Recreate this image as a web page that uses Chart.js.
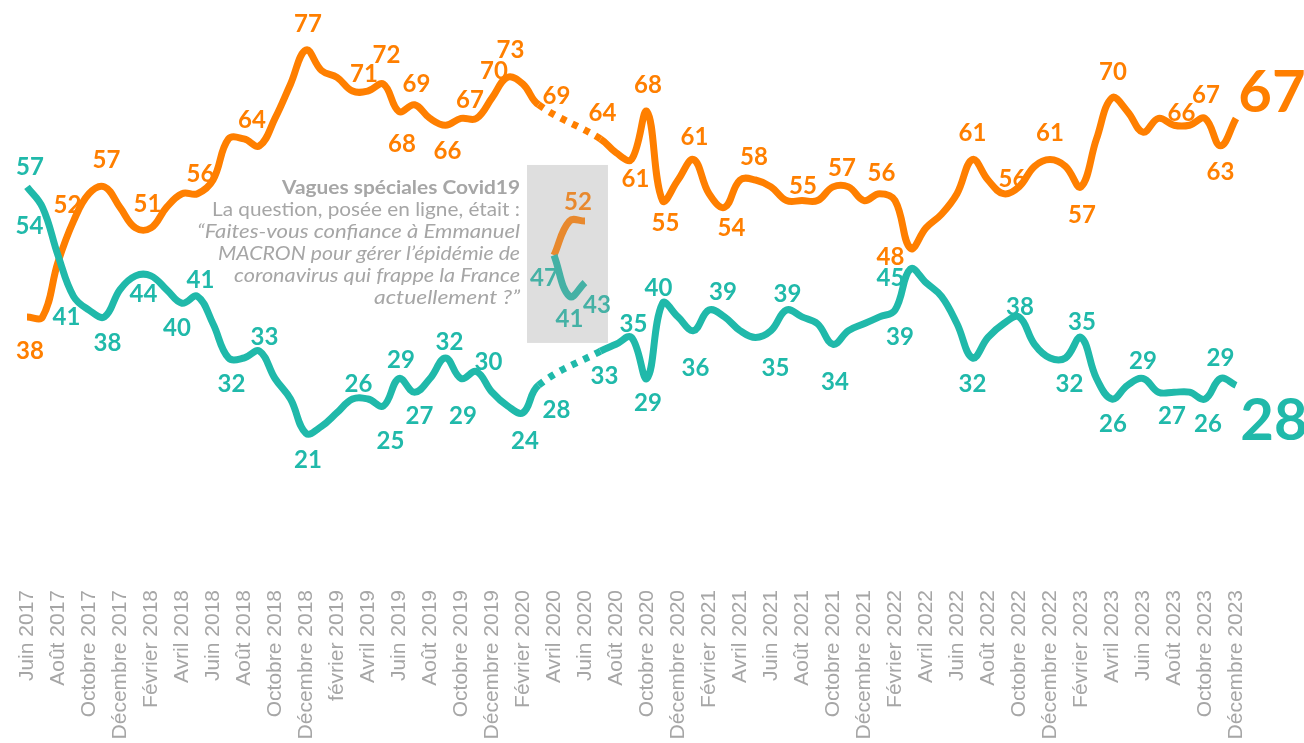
<!DOCTYPE html>
<html><head><meta charset="utf-8">
<script src="https://cdn.jsdelivr.net/npm/chart.js@4"></script>
<style>html,body{margin:0;padding:0;background:#fff;}#wrap{width:1304px;height:743px;position:relative;}</style>
</head><body><div id="wrap"><canvas id="c"></canvas></div>
<script>
const months = ["Juin 2017","Juillet 2017","Août 2017","Septembre 2017","Octobre 2017","Novembre 2017","Décembre 2017",
"Janvier 2018","Février 2018","Mars 2018","Avril 2018","Mai 2018","Juin 2018","Juillet 2018","Août 2018","Septembre 2018","Octobre 2018","Novembre 2018","Décembre 2018",
"Janvier 2019","février 2019","Mars 2019","Avril 2019","Mai 2019","Juin 2019","Juillet 2019","Août 2019","Septembre 2019","Octobre 2019","Novembre 2019","Décembre 2019",
"Janvier 2020","Février 2020","Mars 2020","Avril 2020","Mai 2020","Juin 2020","Juillet 2020","Août 2020","Septembre 2020","Octobre 2020","Novembre 2020","Décembre 2020",
"Janvier 2021","Février 2021","Mars 2021","Avril 2021","Mai 2021","Juin 2021","Juillet 2021","Août 2021","Septembre 2021","Octobre 2021","Novembre 2021","Décembre 2021",
"Janvier 2022","Février 2022","Mars 2022","Avril 2022","Mai 2022","Juin 2022","Juillet 2022","Août 2022","Septembre 2022","Octobre 2022","Novembre 2022","Décembre 2022",
"Janvier 2023","Février 2023","Mars 2023","Avril 2023","Mai 2023","Juin 2023","Juillet 2023","Août 2023","Septembre 2023","Octobre 2023","Novembre 2023","Décembre 2023"];

// "Pas confiance" (orange)
const pasConfiance = [38,38,46,52,56,57,54,
51,51,54,56,56,58,64,64,63,67,72,77,
74,73,71,71,72,68,69,67,66,67,67,70,
73,72,69,null,null,null,64,62,61,68,55,58,
61,56,54,58,58,57,55,55,55,57,57,55,
56,55,48,51,53,56,61,58,56,57,60,61,
60,57,64,70,68,65,67,66,66,67,63,67];

// "Confiance" (teal)
const confiance = [57,54,47,41,39,38,42,
44,44,42,40,41,37,32,32,33,29,26,21,
22,24,26,26,25,29,27,29,32,29,30,27,
25,24,28,null,null,null,33,34,35,29,40,38,
36,39,38,36,35,36,39,38,37,34,36,37,
38,39,45,43,41,37,32,35,37,38,34,32,
32,35,29,26,28,29,27,27,27,26,29,28];

// Vagues spéciales Covid19
const covidMonths = ["Avril 2020","Mai 2020","Juin 2020"];
const covidPasConfiance = [47,52,52];
const covidConfiance = [47,41,43];

const ORANGE = '#FF7F00', TEAL = '#20B9AA', COV_OR = '#E8892E', COV_TE = '#45B1A5', GREY = '#A6A6A6';

// label placement: [pointIndex, dx, dy, big]
const tealLabelPos = [[0,3,-20],[1,-13,19],[3,-7,21],[5,3,26],[7,8,18],[10,-5,25],[11,3,-16],[13,3,26],[15,5,-14],[18,2,27],
[21,6,-15],[23,7,35],[24,2,-18],[25,5,24],[27,4,-16],[28,2,38],[29,12,-9],[32,2,29],[33,18,25],[37,4,25],[39,2,-13],[40,1,25],
[41,-4,-15],[43,2,38],[44,14,-18],[47,20,31],[49,1,-16],[52,2,38],[57,-20,9],[56,5,27],[61,0,26],[64,1,-10],[68,1,-15],[67,4,26],
[70,1,25],[72,0,-17],[74,-2,24],[76,3,25],[77,0,-20],[78,38,36,1]];
const orangeLabelPos = [[0,3,34],[3,-6,-16],[5,2,-27],[7,12,-24],[11,3,-19],[14,8,-19],[18,2,-26],[22,-4,-17],[23,3,-29],[25,2,-20],
[24,3,33],[27,2,26],[28,9,-18],[30,2,-27],[31,3,-27],[33,18,-8],[37,2,-26],[39,4,20],[40,1,-26],[41,3,23],[43,1,-22],[45,7,21],
[46,14,-23],[50,1,-14],[52,9,-19],[55,2,-20],[57,-20,9],[61,0,-26],[63,9,-14],[66,0,-26],[68,1,28],[70,1,-26],[75,-8,-12],
[76,1,-23],[77,0,26],[78,36,-25,1]];
const covTealLabelPos = [[0,-10,23],[1,0,23],[2,12,23]];
const covOrangeLabelPos = [[2,-7,-19]];
const covidBox = {x0:32.26, x1:37.48, yTop:60.2, yBottom:34.2};
const noteLines = [
  ['bold 19px Lato','Vagues spéciales Covid19', 238],
  ['19px Lato','La question, posée en ligne, était :', 308],
  ['italic 19px Lato','“Faites-vous confiance à Emmanuel', 323],
  ['italic 19px Lato','MACRON pour gérer l’épidémie de', 302],
  ['italic 19px Lato','coronavirus qui frappe la France', 286],
  ['italic 19px Lato','actuellement ?”', 146]
];

const gapDash = ctx => (ctx.p0.skip || ctx.p1.skip) ? [6,7] : undefined;

const plugin = {
  id: 'decor',
  beforeDatasetsDraw(chart) {
    const c = chart.ctx, xs = chart.scales.x, ys = chart.scales.y;
    const bx0 = xs.getPixelForValue(covidBox.x0), bx1 = xs.getPixelForValue(covidBox.x1);
    const by0 = ys.getPixelForValue(covidBox.yTop), by1 = ys.getPixelForValue(covidBox.yBottom);
    c.save();
    c.fillStyle = '#DEDEDE';
    c.fillRect(bx0, by0, bx1 - bx0, by1 - by0);
    c.fillStyle = GREY; c.textAlign = 'right'; c.textBaseline = 'middle';
    noteLines.forEach((l, i) => {
      c.font = l[0];
      const w = c.measureText(l[1]).width;
      const k = l[2] / w;
      c.save();
      c.translate(bx0 - 7, by0 + 23 + i * 22);
      c.scale(k, 1);
      c.fillText(l[1], 0, 0);
      c.restore();
    });
    c.restore();
  },
  afterDatasetsDraw(chart) {
    const c = chart.ctx;
    const specs = [[1, ORANGE, orangeLabelPos],[0, TEAL, tealLabelPos],[3, COV_OR, covOrangeLabelPos],[2, COV_TE, covTealLabelPos]];
    c.save(); c.textAlign = 'center'; c.textBaseline = 'middle';
    specs.forEach(([ds, col, pos]) => {
      const meta = chart.getDatasetMeta(ds);
      pos.forEach(([i, dx, dy, big]) => {
        const el = meta.data[i]; const v = meta.controller.getParsed(i).y;
        c.fillStyle = col;
        c.font = big ? 'bold 58px Lato' : 'bold 24px Lato';
        c.fillText(String(v), el.x + dx, el.y + dy);
      });
    });
    c.restore();
  }
};

const common = {borderWidth:7, tension:0.4, pointRadius:0, pointHoverRadius:0, spanGaps:true, fill:false, borderJoinStyle:'round'};

new Chart(document.getElementById('c'), {
  type: 'line',
  data: {
    labels: months,
    datasets: [
      Object.assign({label:'Confiance', data: confiance, borderColor: TEAL, segment:{borderDash: gapDash}}, common),
      Object.assign({label:'Pas confiance', data: pasConfiance, borderColor: ORANGE, segment:{borderDash: gapDash}}, common),
      Object.assign({label:'Confiance Covid', data: covidMonths.map((m,i)=>({x:m, y:covidConfiance[i]})), borderColor: COV_TE}, common),
      Object.assign({label:'Pas confiance Covid', data: covidMonths.map((m,i)=>({x:m, y:covidPasConfiance[i]})), borderColor: COV_OR}, common)
    ]
  },
  options: {
    responsive: true, maintainAspectRatio: false, animation: false,
    layout: {padding: {left: 27, right: 68, top: 0, bottom: 0}},
    plugins: {legend: {display: false}, tooltip: {enabled: false}},
    scales: {
      y: {display: false, min: 0, max: 84.3},
      x: {
        grid: {display: false, drawTicks: false}, border: {display: false},
        afterFit: s => { s.height = 166; },
        ticks: {autoSkip: false, maxRotation: 90, minRotation: 90, padding: 13, color: GREY,
          font: {family: 'Liberation Sans', size: 21},
          callback: (v, i) => i % 2 === 0 ? months[i] : ''}
      }
    }
  },
  plugins: [plugin]
});
</script></body></html>
